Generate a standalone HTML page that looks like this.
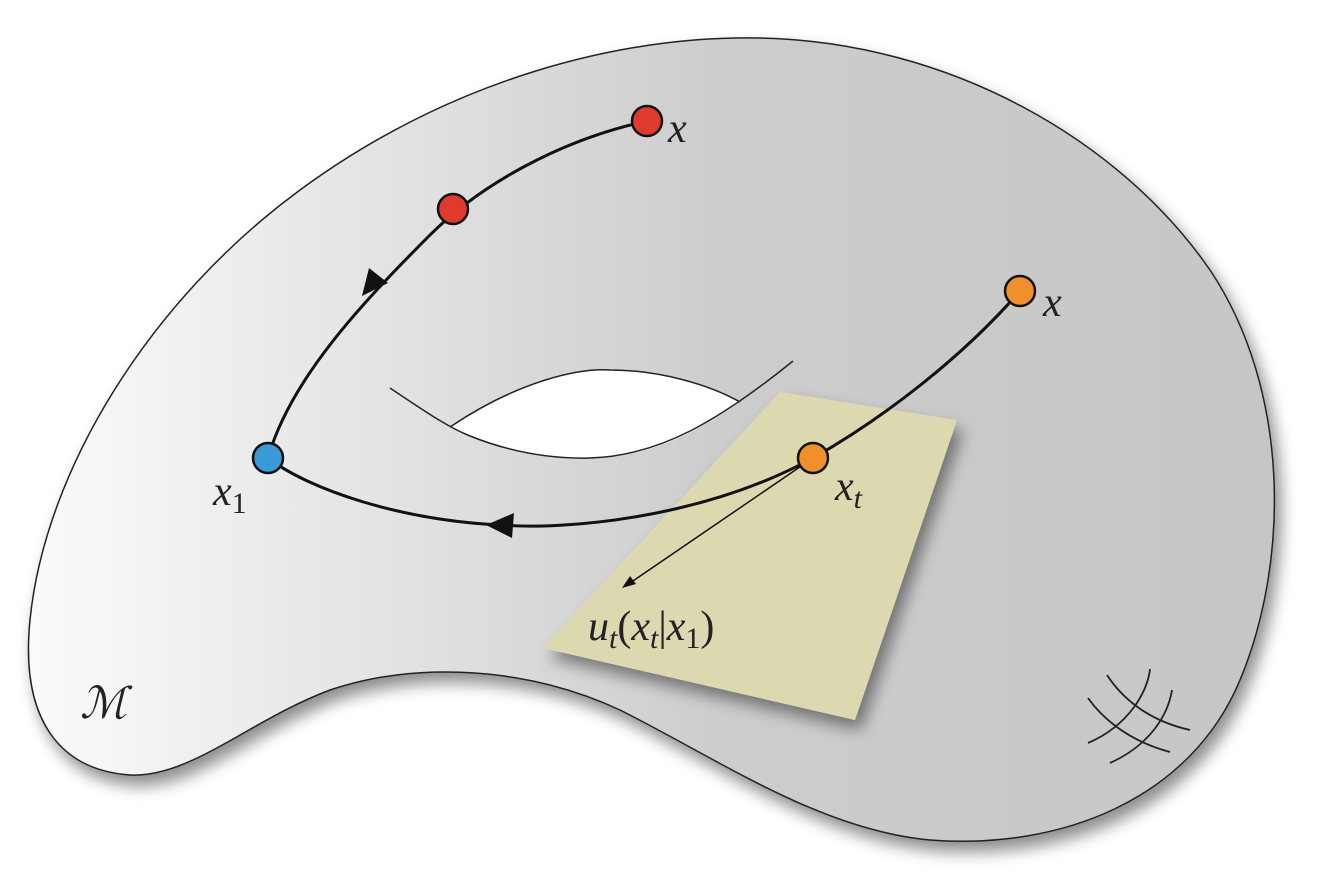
<!DOCTYPE html>
<html><head><meta charset="utf-8"><style>
html,body{margin:0;padding:0;background:#fff;width:1334px;height:882px;overflow:hidden}
svg text{font-family:"Liberation Serif",serif;font-style:italic;fill:#222}
</style></head><body>
<svg width="1334" height="882" viewBox="0 0 1334 882">
<defs>
<linearGradient id="g" x1="0" y1="0" x2="1" y2="0" gradientUnits="objectBoundingBox">
<stop offset="0" stop-color="#fbfbfb"/><stop offset="0.55" stop-color="#cdcdcd"/><stop offset="1" stop-color="#c6c6c6"/>
</linearGradient>
<filter id="sh" x="-10%" y="-10%" width="130%" height="130%"><feGaussianBlur in="SourceAlpha" stdDeviation="8"/><feOffset dx="6" dy="10"/><feComponentTransfer><feFuncA type="linear" slope="0.45"/></feComponentTransfer><feMerge><feMergeNode/><feMergeNode in="SourceGraphic"/></feMerge></filter>
</defs>
<path filter="url(#sh)" fill="url(#g)" stroke="#222" stroke-width="1.5"
d="M130,775 C60,770 20,720 30,620 C45,470 150,300 300,190 C450,80 620,35 760,38 C950,42 1120,140 1210,270 C1290,390 1290,560 1240,680 C1190,800 1060,850 930,840 C820,830 720,760 620,710 C530,668 420,660 330,690 C250,720 190,778 130,775 Z"/>
<path fill="#fff" d="M450,427 C520,380 580,368 610,370 C660,370 710,385 740,402 C700,430 650,458 590,458 C530,460 490,445 450,427 Z"/>
<path fill="none" stroke="#222" stroke-width="1.5" d="M390,388 C430,415 450,428 470,436 C510,452 550,459 590,458 C660,456 720,420 793,361"/>
<path fill="none" stroke="#222" stroke-width="1.5" d="M450,427 C520,380 580,368 610,370 C660,370 710,385 740,402"/>
<polygon filter="url(#sh)" points="780,392 957,420 855,720 543,648" fill="#dcd9b0"/>
<path fill="none" stroke="#111" stroke-width="3" d="M647,121 C560,140 480,185 430,235 C360,305 290,380 268,458"/>
<path fill="none" stroke="#111" stroke-width="3" d="M1020,291 C960,360 880,420 813,458 C700,520 560,530 500,525 C400,520 310,490 268,458"/>
<polygon points="362,296 369,268 388,283" fill="#111"/>
<polygon points="486,525 514,513 512,538" fill="#111"/>
<line x1="813" y1="458" x2="627" y2="585" stroke="#111" stroke-width="1.5"/>
<polygon points="622,588 630,576 636,584" fill="#111"/>
<circle cx="647" cy="121" r="15" fill="#e03a2e" stroke="#111" stroke-width="2.5"/>
<circle cx="453" cy="209" r="15" fill="#e03a2e" stroke="#111" stroke-width="2.5"/>
<circle cx="1020" cy="291" r="15" fill="#f0902c" stroke="#111" stroke-width="2.5"/>
<circle cx="813" cy="458" r="15" fill="#f0902c" stroke="#111" stroke-width="2.5"/>
<circle cx="268" cy="458" r="15" fill="#3a9ad8" stroke="#111" stroke-width="2.5"/>
<text x="668" y="142" font-size="42">x</text>
<text x="1043" y="316" font-size="42">x</text>
<text x="213" y="505" font-size="42">x<tspan font-style="normal" font-size="30" dy="8">1</tspan></text>
<text x="835" y="500" font-size="42">x<tspan font-size="30" dy="8">t</tspan></text>
<text x="588" y="640" font-size="42">u<tspan font-size="30" dy="8">t</tspan><tspan font-style="normal" dy="-8">(</tspan>x<tspan font-size="30" dy="8">t</tspan><tspan font-style="normal" dy="-8">|</tspan>x<tspan font-style="normal" font-size="30" dy="8">1</tspan><tspan font-style="normal" dy="-8">)</tspan></text>
<text x="80" y="718" font-size="44">ℳ</text>
<g fill="none" stroke="#222" stroke-width="1.8">
<path d="M1107,675 C1120,695 1145,720 1190,730"/>
<path d="M1088,698 C1100,715 1125,740 1170,752"/>
<path d="M1150,669 C1148,690 1130,725 1088,743"/>
<path d="M1172,690 C1168,715 1150,745 1110,763"/>
</g>
</svg>
</body></html>
